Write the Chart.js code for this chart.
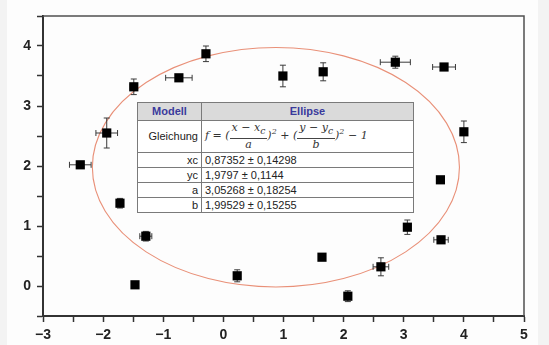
<!DOCTYPE html>
<html>
<head>
<meta charset="utf-8">
<script src="https://cdn.jsdelivr.net/npm/chart.js@4"></script>
<style>
  body { margin: 0; background: #f3f3f3; }
  #wrap { position: relative; width: 549px; height: 345px; }
  #fitTable {
    position: absolute; left: 137px; top: 102px; width: 277px;
    border-collapse: collapse; background: #fff;
    font-family: "Liberation Sans", Arial, sans-serif; font-size: 11px; color: #222;
  }
  #fitTable td { border: 1px solid #7a7a7a; padding: 0 3px; height: 14px; line-height: 13px; white-space: nowrap; }
  #fitTable td.lab { text-align: right; width: 57px; }
  #fitTable tr.head td { background: #dadada; color: #3a3a9c; font-weight: bold; text-align: center; height: 17px; }
  #fitTable tr.eq td { height: 31px; }
  .eqn { font-family: "DejaVu Serif", "Liberation Serif", serif; font-style: italic; font-size: 11px; color: #333; }
  .frac { display: inline-block; vertical-align: middle; text-align: center; line-height: 12px; }
  .frac span { display: block; padding: 0 2px; }
  .frac span.num { border-bottom: 1px solid #444; }
  sup { font-size: 8px; }
</style>
</head>
<body>
<div id="wrap">
  <canvas id="ellipseChart" width="549" height="345"></canvas>
  <table id="fitTable"></table>
</div>
<script>
// measured points
const xs   = [-2.38, -1.94, -1.72, -1.49, -1.29, -1.47, -0.74, -0.29, 0.23, 0.99, 1.66, 1.64, 2.07, 2.62, 2.86, 3.06, 3.67, 3.61, 3.62, 4.00];
const ys   = [ 2.02,  2.55,  1.38,  3.32,  0.83,  0.02,  3.47,  3.87, 0.17, 3.50, 3.57, 0.48, -0.17, 0.32, 3.73, 0.98, 3.65, 1.77, 0.77, 2.57];
const xErr = [ 0.18,  0.18,  0.04,  0.06,  0.10,  0.03,  0.22,  0.04, 0.04, 0.03, 0.03, 0.05, 0.04, 0.13, 0.25, 0.03, 0.19, 0.06, 0.12, 0.03];
const yErr = [ 0.02,  0.25,  0.08,  0.13,  0.08,  0.02,  0.03,  0.13, 0.10, 0.18, 0.15, 0.05, 0.09, 0.15, 0.10, 0.12, 0.03, 0.04, 0.03, 0.18];

// fit result (Ellipse)
const fitNames  = ["xc", "yc", "a", "b"];
const fitValues = [0.87352, 1.9797, 3.05268, 1.99529];
const fitErrors = [0.14298, 0.1144, 0.18254, 0.15255];
const fitLabels = ["0,87352 ± 0,14298", "1,9797 ± 0,1144", "3,05268 ± 0,18254", "1,99529 ± 0,15255"];

const xTicks = [-3, -2, -1, 0, 1, 2, 3, 4, 5];
const yTicks = [0, 1, 2, 3, 4];

// table
var tbl = document.getElementById("fitTable");
var html = '<tr class="head"><td>Modell</td><td>Ellipse</td></tr>';
html += '<tr class="eq"><td class="lab">Gleichung</td><td class="eqn">f = (<span class="frac"><span class="num">x − x<sub>c</sub></span><span>a</span></span>)<sup>2</sup> + (<span class="frac"><span class="num">y − y<sub>c</sub></span><span>b</span></span>)<sup>2</sup> − 1</td></tr>';
for (let i = 0; i < fitNames.length; i++) {
    html += '<tr><td class="lab">' + fitNames[i] + '</td><td>' + fitLabels[i] + '</td></tr>';
}
tbl.innerHTML = html;

function fmt(v) {
    if (!Number.isInteger(v)) return '';
    return v < 0 ? '\u2212' + Math.abs(v) : String(v);
}

const decor = {
    id: 'decor',
    beforeDraw(chart) {
        const c = chart.ctx;
        c.save();
        c.fillStyle = '#fdfdfd';
        c.fillRect(7, 0, 531, chart.height);
        c.restore();
    },
    beforeDatasetsDraw(chart) {
        const c = chart.ctx, xs_ = chart.scales.x, ys_ = chart.scales.y, a = chart.chartArea;
        c.save();
        // frame top/right
        c.strokeStyle = '#505050';
        c.lineWidth = 1.5;
        c.beginPath();
        c.moveTo(a.left, a.top); c.lineTo(a.right, a.top); c.lineTo(a.right, a.bottom);
        c.stroke();
        // fitted ellipse
        const cx = xs_.getPixelForValue(fitValues[0]);
        const cy = ys_.getPixelForValue(fitValues[1]);
        const rx = xs_.getPixelForValue(fitValues[0] + fitValues[2]) - cx;
        const ry = cy - ys_.getPixelForValue(fitValues[1] + fitValues[3]);
        c.strokeStyle = '#e99078';
        c.lineWidth = 1.1;
        c.beginPath();
        c.ellipse(cx, cy, rx, ry, 0, 0, Math.PI * 2);
        c.stroke();
        // error bars
        c.strokeStyle = '#3a3a3a';
        c.lineWidth = 1;
        for (let i = 0; i < xs.length; i++) {
            const px = xs_.getPixelForValue(xs[i]), py = ys_.getPixelForValue(ys[i]);
            const x0 = xs_.getPixelForValue(xs[i] - xErr[i]), x1 = xs_.getPixelForValue(xs[i] + xErr[i]);
            const y0 = ys_.getPixelForValue(ys[i] - yErr[i]), y1 = ys_.getPixelForValue(ys[i] + yErr[i]);
            c.beginPath();
            c.moveTo(x0, py); c.lineTo(x1, py);
            c.moveTo(x0, py - 3); c.lineTo(x0, py + 3);
            c.moveTo(x1, py - 3); c.lineTo(x1, py + 3);
            c.moveTo(px, y0); c.lineTo(px, y1);
            c.moveTo(px - 3, y0); c.lineTo(px + 3, y0);
            c.moveTo(px - 3, y1); c.lineTo(px + 3, y1);
            c.stroke();
        }
        c.restore();
    }
};

var ctx = document.getElementById("ellipseChart").getContext('2d');
var chart = new Chart(ctx, {
    type: 'scatter',
    data: {
        datasets: [{
            label: 'Daten',
            data: xs.map((x, i) => ({x: x, y: ys[i]})),
            pointStyle: 'rect',
            pointRadius: 6.5,
            pointHoverRadius: 6.5,
            backgroundColor: '#000',
            borderColor: '#000',
            borderWidth: 0
        }]
    },
    options: {
        responsive: false,
        animation: false,
        layout: { padding: { top: 16, right: 25, left: 0, bottom: 0 } },
        plugins: { legend: { display: false }, tooltip: { enabled: false } },
        scales: {
            x: {
                type: 'linear',
                min: xTicks[0], max: xTicks[xTicks.length - 1],
                afterFit: s => { s.height = 29; },
                border: { color: '#333', width: 2 },
                grid: { drawOnChartArea: false, tickLength: 6, color: '#333', tickWidth: 1.5 },
                ticks: {
                    stepSize: 0.5, autoSkip: false, maxRotation: 0, padding: 5,
                    color: '#222', font: { family: 'Liberation Sans', weight: 'bold', size: 14 },
                    callback: fmt
                }
            },
            y: {
                type: 'linear',
                min: -0.5, max: 4.5,
                afterFit: s => { s.width = 43; },
                border: { color: '#333', width: 2 },
                grid: { drawOnChartArea: false, tickLength: 6, color: '#333', tickWidth: 1.5 },
                ticks: {
                    stepSize: 0.5, autoSkip: false, padding: 6,
                    color: '#222', font: { family: 'Liberation Sans', weight: 'bold', size: 14 },
                    callback: fmt
                }
            }
        }
    },
    plugins: [decor]
});
</script>
</body>
</html>
